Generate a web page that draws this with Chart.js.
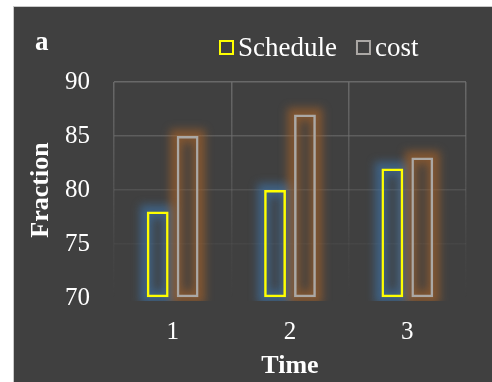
<!DOCTYPE html>
<html>
<head>
<meta charset="utf-8">
<script src="https://cdn.jsdelivr.net/npm/chart.js@4/dist/chart.umd.min.js"></script>
<style>
  html, body { margin: 0; padding: 0; background: #ffffff; width: 492px; height: 382px; overflow: hidden; }
  #frame {
    position: absolute; left: 13px; top: 6px; width: 478px; height: 375px;
    border-left: 1px solid #c9c9c9; border-top: 1px solid #c9c9c9;
    background: #404040;
  }
  canvas { display: block; }
</style>
</head>
<body>
<div id="frame"><canvas id="chart" width="478" height="375"></canvas></div>
<script>
// Time points and the two fractions measured at each
const timeLabels = ['1', '2', '3'];
const scheduleValues = [78, 80, 82];
const costValues = [85, 87, 83];
const seriesNames = ['Schedule', 'cost'];
// Value axis range and step
const yMin = 70;
const yMax = 90;
const yStep = 5;

const SERIF = '"Liberation Serif", "Times New Roman", serif';

// Grid lines fade out toward the bottom of the plot
function gridGradient(chart) {
  const area = chart.chartArea;
  if (!area) return 'rgba(100,100,100,0.6)';
  const g = chart.ctx.createLinearGradient(0, area.top, 0, area.bottom);
  g.addColorStop(0, 'rgba(112,112,112,0.85)');
  g.addColorStop(0.75, 'rgba(112,112,112,0.12)');
  g.addColorStop(1, 'rgba(112,112,112,0)');
  return g;
}

// Soft glow around each bar, drawn under the bar outlines
const barGlow = {
  id: 'barGlow',
  beforeDatasetsDraw(chart) {
    const ctx = chart.ctx;
    const area = chart.chartArea;
    ctx.save();
    ctx.beginPath();
    ctx.rect(area.left, area.top - 20, area.right - area.left, area.bottom - area.top + 23);
    ctx.clip();
    chart.data.datasets.forEach((ds, i) => {
      const meta = chart.getDatasetMeta(i);
      meta.data.forEach(bar => {
        const p = bar.getProps(['x', 'y', 'base', 'width'], true);
        const left = p.x - p.width / 2;
        ctx.save();
        ctx.filter = 'blur(4.5px)';
        ctx.strokeStyle = ds.glowColor;
        ctx.lineWidth = 13;
        ctx.strokeRect(left, p.y, p.width, p.base - p.y);
        ctx.restore();
      });
    });
    ctx.restore();
  }
};

// Panel letter and series key along the top
const panelHeader = {
  id: 'panelHeader',
  afterDraw(chart) {
    const ctx = chart.ctx;
    ctx.save();
    ctx.fillStyle = '#ffffff';
    ctx.textBaseline = 'alphabetic';
    ctx.textAlign = 'left';
    ctx.font = 'bold 27px ' + SERIF;
    ctx.fillText('a', 21, 43);

    ctx.font = '27px ' + SERIF;
    ctx.textBaseline = 'middle';
    let x = 206;
    const cy = 41;
    chart.data.datasets.forEach((ds, i) => {
      ctx.strokeStyle = ds.borderColor;
      ctx.lineWidth = 2;
      ctx.strokeRect(x, cy - 7, 13, 13);
      x += 18;
      ctx.fillStyle = '#ffffff';
      ctx.fillText(ds.label, x, cy + 1);
      x += ctx.measureText(ds.label).width + 20;
    });
    ctx.restore();
  }
};

new Chart(document.getElementById('chart'), {
  type: 'bar',
  data: {
    labels: timeLabels,
    datasets: [
      {
        label: seriesNames[0],
        data: scheduleValues,
        base: yMin,
        backgroundColor: 'rgba(0,0,0,0)',
        borderColor: '#ffff00',
        borderWidth: 2.5,
        borderSkipped: false,
        glowColor: 'rgba(62,118,172,0.62)'
      },
      {
        label: seriesNames[1],
        data: costValues,
        base: yMin,
        backgroundColor: 'rgba(0,0,0,0)',
        borderColor: '#aba8a5',
        borderWidth: 2.5,
        borderSkipped: false,
        glowColor: 'rgba(170,98,38,0.62)'
      }
    ]
  },
  options: {
    responsive: false,
    animation: false,
    categoryPercentage: 0.51,
    barPercentage: 0.73,
    layout: { padding: { top: 75, right: 26, left: 12, bottom: 0 } },
    plugins: {
      legend: { display: false },
      tooltip: { enabled: false }
    },
    scales: {
      x: {
        border: { display: false },
        grid: {
          drawTicks: false,
          offset: true,
          lineWidth: 1.5,
          color: ctx => gridGradient(ctx.chart)
        },
        ticks: {
          color: '#ffffff',
          padding: 19,
          font: { family: SERIF, size: 25 }
        },
        title: {
          display: true,
          text: 'Time',
          color: '#ffffff',
          padding: { top: 0, bottom: 0 },
          font: { family: SERIF, size: 26, weight: 'bold' }
        },
        afterFit(scale) { scale.height = 84; }
      },
      y: {
        min: yMin,
        max: yMax,
        border: { display: false },
        grid: {
          drawTicks: false,
          lineWidth: 1.5,
          color: ctx => gridGradient(ctx.chart)
        },
        ticks: {
          stepSize: yStep,
          color: '#ffffff',
          padding: 24,
          font: { family: SERIF, size: 25 }
        },
        title: {
          display: true,
          text: 'Fraction',
          color: '#ffffff',
          padding: { top: 0, bottom: 0 },
          font: { family: SERIF, size: 26, weight: 'bold' }
        },
        afterFit(scale) { scale.width = 88; }
      }
    }
  },
  plugins: [barGlow, panelHeader]
});
</script>
</body>
</html>
